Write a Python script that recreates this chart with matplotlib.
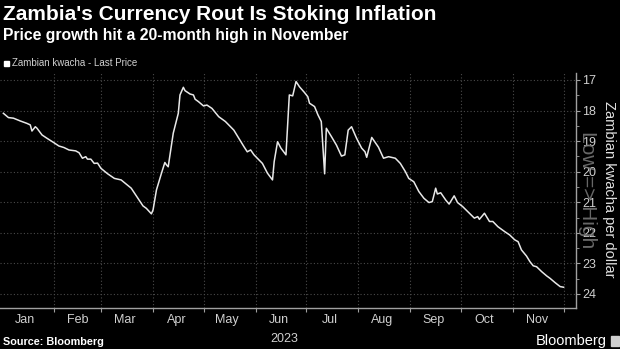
import matplotlib
matplotlib.use("Agg")
import matplotlib.pyplot as plt
import matplotlib.dates as mdates
import pandas as pd
from matplotlib.ticker import MultipleLocator, NullFormatter

# ---- data ----
dates = [
    "2023-01-02", "2023-01-05", "2023-01-08", "2023-01-12", "2023-01-16", "2023-01-18",
    "2023-01-19", "2023-01-21", "2023-01-22", "2023-01-25", "2023-01-28", "2023-02-01",
    "2023-02-04", "2023-02-07", "2023-02-10", "2023-02-14", "2023-02-16", "2023-02-18",
    "2023-02-20", "2023-02-21", "2023-02-23", "2023-02-25", "2023-02-27", "2023-03-01",
    "2023-03-05", "2023-03-09", "2023-03-13", "2023-03-15", "2023-03-19", "2023-03-23",
    "2023-03-26", "2023-03-28", "2023-03-31", "2023-04-01", "2023-04-03", "2023-04-06",
    "2023-04-08", "2023-04-09", "2023-04-10", "2023-04-13", "2023-04-16", "2023-04-17",
    "2023-04-19", "2023-04-20", "2023-04-23", "2023-04-25", "2023-04-26", "2023-04-28",
    "2023-05-01", "2023-05-03", "2023-05-06", "2023-05-10", "2023-05-14", "2023-05-19",
    "2023-05-22", "2023-05-25", "2023-05-27", "2023-05-29", "2023-05-31", "2023-06-05",
    "2023-06-08", "2023-06-11", "2023-06-12", "2023-06-14", "2023-06-16", "2023-06-19",
    "2023-06-21", "2023-06-23", "2023-06-25", "2023-06-27", "2023-06-30", "2023-07-02",
    "2023-07-03", "2023-07-06", "2023-07-08", "2023-07-10", "2023-07-12", "2023-07-13",
    "2023-07-16", "2023-07-19", "2023-07-22", "2023-07-24", "2023-07-26", "2023-07-28",
    "2023-07-31", "2023-08-03", "2023-08-05", "2023-08-06", "2023-08-09", "2023-08-13",
    "2023-08-16", "2023-08-19", "2023-08-23", "2023-08-26", "2023-08-29", "2023-08-31",
    "2023-09-03", "2023-09-06", "2023-09-09", "2023-09-12", "2023-09-14", "2023-09-16",
    "2023-09-17", "2023-09-19", "2023-09-22", "2023-09-24", "2023-09-27", "2023-09-29",
    "2023-10-02", "2023-10-06", "2023-10-09", "2023-10-11", "2023-10-12", "2023-10-15",
    "2023-10-18", "2023-10-20", "2023-10-23", "2023-10-27", "2023-10-30", "2023-11-02",
    "2023-11-04", "2023-11-06", "2023-11-09", "2023-11-11", "2023-11-13", "2023-11-15",
    "2023-11-18", "2023-11-21", "2023-11-23", "2023-11-26", "2023-11-29", "2023-12-01",
]
kwacha = [
    18.09, 18.23, 18.25, 18.34, 18.42, 18.47,
    18.67, 18.53, 18.58, 18.80, 18.91, 19.05,
    19.16, 19.21, 19.29, 19.32, 19.38, 19.56,
    19.51, 19.59, 19.59, 19.73, 19.72, 19.89,
    20.07, 20.22, 20.27, 20.36, 20.54, 20.87,
    21.12, 21.20, 21.38, 21.25, 20.60, 20.05,
    19.70, 19.78, 19.84, 18.74, 18.09, 17.49,
    17.24, 17.35, 17.46, 17.49, 17.63, 17.71,
    17.85, 17.82, 17.93, 18.20, 18.36, 18.64,
    18.91, 19.18, 19.35, 19.29, 19.45, 19.73,
    20.05, 20.27, 19.67, 19.02, 19.23, 19.45,
    17.49, 17.52, 17.05, 17.22, 17.41, 17.55,
    17.76, 17.87, 18.14, 18.36, 20.07, 18.58,
    18.85, 19.13, 19.49, 19.45, 18.64, 18.53,
    18.91, 19.23, 19.35, 19.53, 18.88, 19.20,
    19.56, 19.51, 19.56, 19.73, 20.00, 20.22,
    20.33, 20.65, 20.87, 21.01, 20.98, 20.54,
    20.73, 20.69, 20.93, 21.06, 20.79, 21.01,
    21.14, 21.36, 21.52, 21.47, 21.56, 21.36,
    21.63, 21.63, 21.80, 21.96, 22.07, 22.23,
    22.29, 22.56, 22.76, 22.94, 23.08, 23.11,
    23.27, 23.41, 23.49, 23.63, 23.76, 23.78,
]
month_labels = ["Jan", "Feb", "Mar", "Apr", "May", "Jun", "Jul", "Aug", "Sep", "Oct", "Nov"]
y_ticks = [17, 18, 19, 20, 21, 22, 23, 24]

title = "Zambia's Currency Rout Is Stoking Inflation"
subtitle = "Price growth hit a 20-month high in November"
legend_label = "Zambian kwacha - Last Price"
y_label = "Zambian kwacha per dollar"

x = pd.to_datetime(dates)

BG = "#000000"
NARROW = ["Liberation Sans Narrow", "Liberation Sans", "DejaVu Sans"]
BOLD = ["Liberation Sans", "DejaVu Sans"]

fig = plt.figure(figsize=(6.2, 3.49), dpi=100, facecolor=BG)
ax = fig.add_axes([0.0, 0.1175, 0.929, 0.6735])
ax.set_facecolor(BG)

ax.plot(x, kwacha, color="#e8e8e8", linewidth=1.1, solid_joinstyle="round")

ax.set_xlim(pd.Timestamp("2022-12-31"), pd.Timestamp("2023-12-08 10:00"))
ax.set_ylim(24.46, 16.77)

# y axis on the right
ax.yaxis.tick_right()
ax.set_yticks(y_ticks)
ax.set_yticklabels([str(v) for v in y_ticks], fontfamily=NARROW, fontsize=9, color="#d0d0d0")
ax.yaxis.set_minor_locator(MultipleLocator(0.5))
ax.tick_params(axis="y", which="major", length=3, width=0.8, color="#a0a0a0", pad=1.5)
ax.tick_params(axis="y", which="minor", length=2, width=0.6, color="#a0a0a0")

# y-axis title (right side, reading top to bottom)
fig.text(609 / 620, 1 - 189 / 349, y_label, rotation=270, ha="center", va="center",
         fontfamily=NARROW, fontsize=10.5, color="#e0e0e0")

# x axis: ticks at month starts, labels mid-month
month_starts = pd.date_range("2023-02-01", "2023-12-01", freq="MS")
ax.set_xticks(month_starts)
ax.xaxis.set_major_formatter(NullFormatter())
mids = pd.date_range("2023-01-01", "2023-11-01", freq="MS") + pd.Timedelta(days=14)
ax.set_xticks(mids, minor=True)
ax.set_xticklabels(month_labels, minor=True, fontfamily=NARROW, fontsize=9, color="#d0d0d0")
ax.tick_params(axis="x", which="major", length=3, width=0.8, color="#a0a0a0")
ax.tick_params(axis="x", which="minor", length=0, pad=4)

ax.grid(True, which="major", color="#4a4a4a", linestyle=(0, (1, 2)), linewidth=0.8)

for s in ["top", "left"]:
    ax.spines[s].set_visible(False)
for s in ["right", "bottom"]:
    ax.spines[s].set_color("#a0a0a0")
    ax.spines[s].set_linewidth(1.0)

# year label
ax.text(pd.Timestamp("2023-06-18"), -0.105, "2023", transform=ax.get_xaxis_transform(),
        ha="center", va="top", fontfamily=NARROW, fontsize=9, color="#d0d0d0")

# Low => High watermark
fig.text(588 / 620, 1 - 190 / 349, "Low => High", rotation=270, ha="center", va="center",
         fontfamily=NARROW, fontsize=15, color="#7a7a7a", alpha=0.85)

# titles
fig.text(3 / 620, 1 - 15 / 349, title, ha="left", va="center", fontfamily=BOLD,
         fontweight="bold", fontsize=15, color="white")
fig.text(3 / 620, 1 - 35.5 / 349, subtitle, ha="left", va="center", fontfamily=BOLD,
         fontweight="bold", fontsize=11.3, color="white")

# legend
fig.patches.append(plt.Rectangle((4 / 620, 1 - 66 / 349), 5 / 620, 5 / 349,
                                 transform=fig.transFigure, color="white"))
fig.text(12 / 620, 1 - 63.5 / 349, legend_label, ha="left", va="center", fontfamily=NARROW,
         fontsize=7, color="#d0d0d0")

# footer
fig.text(3 / 620, 1 - 342 / 349, "Source: Bloomberg", ha="left", va="center", fontfamily=BOLD,
         fontweight="bold", fontsize=7.8, color="white")
fig.text(607 / 620, 1 - 341 / 349, "Bloomberg", ha="right", va="center", fontfamily=BOLD,
         fontsize=10.5, color="white")
fig.patches.append(plt.Rectangle((611 / 620, 1 - 346 / 349), 8 / 620, 10 / 349,
                                 transform=fig.transFigure, color="#cfcfcf"))

fig.savefig("out.png", dpi=100, facecolor=BG)
